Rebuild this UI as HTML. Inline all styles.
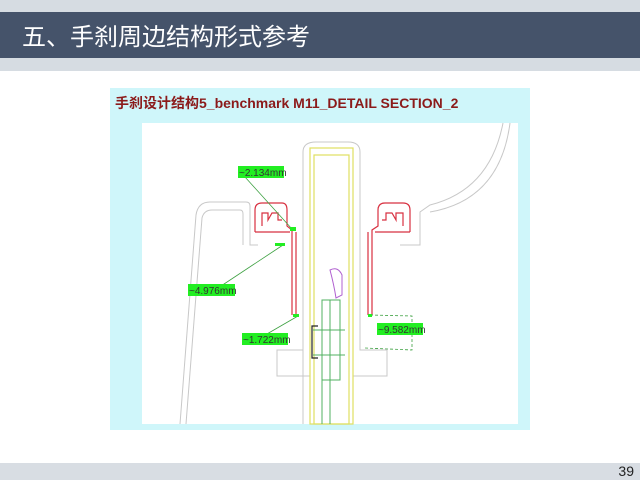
<!DOCTYPE html>
<html><head><meta charset="utf-8"><style>
body{margin:0;width:640px;height:480px;background:#fff;overflow:hidden;position:relative;font-family:"Liberation Sans","Noto Sans CJK SC",sans-serif}
.top{position:absolute;left:0;top:0;width:640px;height:12px;background:#d6dce2}
.band{position:absolute;left:0;top:12px;width:640px;height:46px;background:#45536a}
.band2{position:absolute;left:0;top:58px;width:640px;height:13px;background:#d6dce2}
.title{position:absolute;left:22px;top:18px;color:#fff;font-size:24px;font-family:"Noto Sans CJK SC",sans-serif;line-height:34px}
.bot{position:absolute;left:0;top:463px;width:640px;height:17px;background:#d8dde3}
.num{position:absolute;right:6px;top:463px;font-size:14px;color:#222;line-height:17px}
</style></head><body>
<div class="top"></div><div class="band"></div><div class="band2"></div>
<div class="title">五、手刹周边结构形式参考</div>
<div class="bot"></div><div class="num">39</div>
<svg style="position:absolute;left:0;top:0" width="640" height="480">
<rect x="110" y="88" width="420" height="342" fill="#cff6fa"/>
<rect x="142" y="123" width="376" height="301" fill="#fff"/>
<text x="115" y="108" font-size="14" font-weight="bold" fill="#8b1a1a" font-family="Liberation Sans,Noto Sans CJK SC,sans-serif">手刹设计结构5_benchmark M11_DETAIL SECTION_2</text>
<g fill="none" stroke="#c8c8c8" stroke-width="1">
<path d="M180 424 L196 215 Q198 202 210 202 L246 202 Q250 202 250 206 L250 245 L258 245"/>
<path d="M186 424 L202 218 Q204 210 212 210 L240 210 Q243 210 243 214 L243 245"/>
<path d="M303 424 L303 350 L277 350 L277 376 L310 376"/>
<path d="M303 350 L303 152 Q303 142 316 142 L348 142 Q360 142 360 152 L360 350 L387 350 L387 376 L353 376"/>
<path d="M503 123 Q490 190 430 205 L420 212 L420 245 L400 245"/>
<path d="M510 123 Q500 200 430 212"/>
<path d="M353 376 L353 424 M310 376 L310 424"/>
</g>
<g fill="none" stroke="#e0e060" stroke-width="1.2">
<rect x="310" y="148" width="43" height="276"/>
<rect x="314" y="155" width="35" height="269"/>
</g>
<g fill="none" stroke="#d83040" stroke-width="1.2">
<path d="M255 232 L255 210 Q255 203 262 203 L282 203 Q287 203 287 210 L287 226 L292 230 L292 315"/>
<path d="M262 226 L262 213 L268 213 L268 220 L272 213 L278 213 L278 220 L282 220 M255 232 L290 232"/>
<path d="M296 232 L296 315"/>
<path d="M410 232 L410 210 Q410 203 403 203 L385 203 Q378 203 378 210 L378 226 L372 230 L372 315"/>
<path d="M403 226 L403 213 L396 213 L396 220 L392 213 L386 213 L386 220 L382 220 M410 232 L375 232"/>
<path d="M368 232 L368 315"/>
</g>
<path d="M330 270 Q338 266 342 275 L342 295 L336 298 Q334 285 330 270Z" fill="none" stroke="#b060d0" stroke-width="1"/>
<g fill="none" stroke="#50b060" stroke-width="1">
<path d="M322 424 L322 300 L340 300 L340 380 L322 380"/>
<path d="M330 300 L330 424"/>
<path d="M313 330 L345 330 M313 355 L345 355"/>
</g>
<path d="M318 326 L312 326 L312 358 L318 358" fill="none" stroke="#222" stroke-width="1.2"/>
<g stroke="#3ca040" stroke-width="0.8" fill="none">
<line x1="245" y1="177" x2="292" y2="229"/>
<line x1="215" y1="290" x2="283" y2="245"/>
<line x1="260" y1="338" x2="298" y2="316"/>
<path d="M370 315 L412 316 L412 350 L365 348" stroke-dasharray="3,2"/>
</g>
<g fill="#22ee22">
<rect x="238" y="166" width="46" height="12"/>
<rect x="188" y="284" width="47" height="12"/>
<rect x="242" y="333" width="46" height="12"/>
<rect x="377" y="323" width="46" height="12"/>
<rect x="290" y="227" width="6" height="4"/><rect x="275" y="243" width="10" height="3"/>
<rect x="293" y="314" width="6" height="3"/><rect x="368" y="314" width="4" height="3"/>
</g>
<g font-size="10" fill="#333" font-family="Liberation Sans,sans-serif">
<text x="239" y="176">~2.134mm</text>
<text x="189" y="294">~4.976mm</text>
<text x="243" y="343">~1.722mm</text>
<text x="378" y="333">~9.582mm</text>
</g>
</svg>
</body></html>
